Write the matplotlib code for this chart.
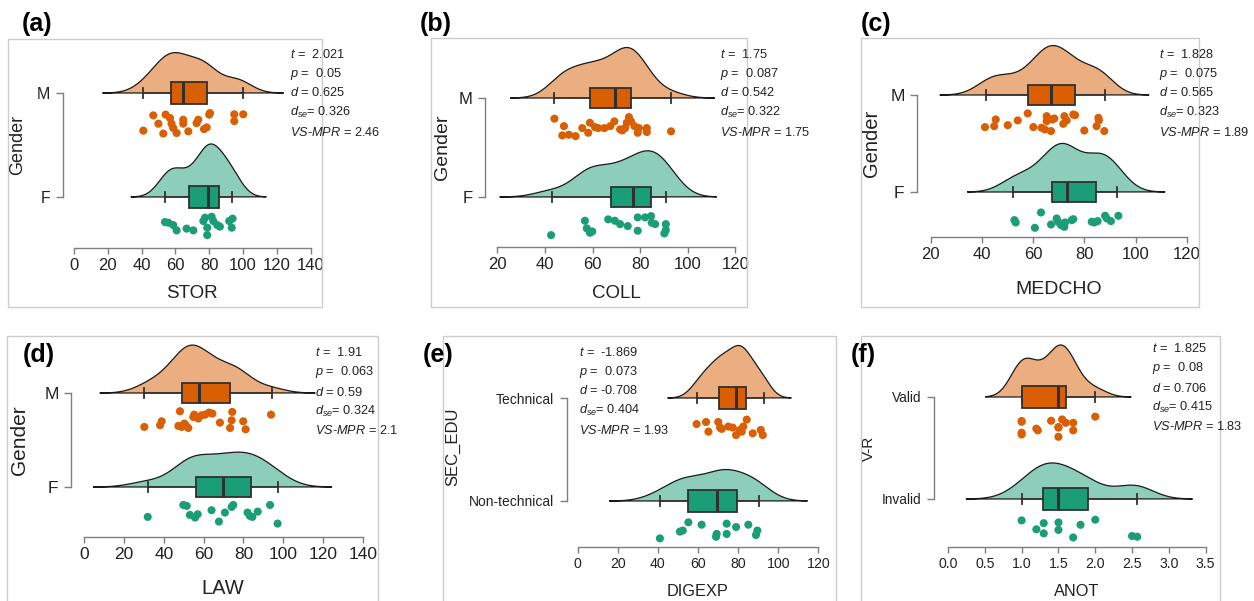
import numpy as np
import matplotlib
matplotlib.use("Agg")
import matplotlib.pyplot as plt
from matplotlib.patches import Rectangle

plt.rcParams['font.family'] = ['Liberation Sans', 'DejaVu Sans']
plt.rcParams['mathtext.fontset'] = 'custom'
plt.rcParams['mathtext.rm'] = 'Liberation Sans'
plt.rcParams['mathtext.it'] = 'Liberation Sans:italic'

# ---------------- data ----------------
# (a) STOR by Gender
stor_m = [41.0, 52.8, 60.7, 67.6, 76.9, 78.5, 49.9, 58.7, 57.7, 64.6, 64.6, 72.5, 73.5,
          46.9, 54.2, 56.8, 80.0, 80.4, 94.8, 94.8, 100.1]
stor_m_jit = [-0.72, -1.0, -0.95, -0.79, -0.57, -0.41, -0.05, -0.47, -0.05, -0.05, 0.33, 0.0, 0.33,
              0.75, 0.82, 0.49, 0.82, 0.97, 0.2, 0.85, 0.85]
stor_f = [53.8, 55.8, 58.7, 60.7, 66.6, 70.6, 78.8, 78.8, 76.5, 77.5, 81.4, 82.4, 84.7, 86.3,
          91.8, 93.3, 93.8]
stor_f_jit = [0.49, 0.43, 0.2, -0.31, -0.14, -0.31, -0.76, -0.05, 0.59, 0.91, 1.0, 0.59, 0.2, 0.05,
              0.59, -0.05, 0.82]
stor_box_m = [40.6, 57.4, 64.3, 78.7, 99.7]
stor_box_f = [53.8, 68.0, 79.0, 85.7, 93.6]
stor_stats = ["2.021", "0.05", "0.625", "0.326", "2.46"]

# (b) COLL by Gender
coll_m = [44.0, 47.3, 48.0, 50.1, 52.9, 55.7, 58.2, 58.9, 61.0, 62.4, 65.0, 67.5, 69.2, 71.6,
          72.5, 73.7, 74.4, 75.3, 76.2, 77.6, 79.0, 79.5, 82.8, 82.8, 93.0]
coll_m_jit = [0.81, -0.88, 0.06, -0.81, -0.95, -0.14, -0.61, 0.4, -0.04, -0.14, -0.14, 0.06, 0.54,
              -0.27, -0.37, -0.14, 0.4, 0.97, 0.54, 0.06, -0.61, -0.14, -0.54, -0.14, -0.47]
coll_f = [42.6, 56.8, 57.6, 58.9, 59.9, 66.6, 69.4, 71.6, 74.8, 79.0, 79.0, 82.1, 84.6, 84.9,
          86.3, 90.2, 90.8, 90.8]
coll_f_jit = [-0.95, 0.5, -0.27, -0.71, -0.58, 0.64, 0.5, 0.16, -0.04, -0.51, 0.84, 0.84, 0.97, 0.3,
              0.16, -0.78, -0.44, 0.16]
coll_box_m = [44.0, 58.9, 69.5, 76.0, 92.9]
coll_box_f = [43.1, 67.6, 76.9, 84.6, 90.8]
coll_stats = ["1.75", "0.087", "0.542", "0.322", "1.75"]

# (c) MEDCHO by Gender
medcho_m = [41.2, 44.8, 45.4, 50.1, 54.0, 57.9, 60.1, 63.3, 64.6, 65.3, 65.3, 67.0, 67.5, 68.3,
            71.8, 72.2, 73.1, 75.7, 76.4, 80.0, 84.8, 85.5, 85.7, 87.8]
medcho_m_jit = [-0.41, -0.31, 0.38, -0.21, 0.28, 1.0, -0.41, -0.48, -0.65, 0.21, 0.72, -0.82, 0.38,
                0.48, -0.07, 0.72, 0.28, 0.89, 0.82, -0.76, -0.31, 0.55, 0.28, -0.82]
medcho_f = [52.7, 53.2, 60.7, 63.1, 67.0, 69.2, 69.8, 70.9, 72.2, 72.5, 75.1, 75.7, 82.9, 83.9,
            85.2, 88.1, 88.8, 90.4, 93.3]
medcho_f_jit = [0.0, -0.24, -0.79, 0.79, -0.45, 0.17, -0.17, -0.52, -0.69, -0.24, 0.0, 0.1, -0.17,
                -0.24, -0.1, 0.45, 0.17, -0.1, 0.45]
medcho_box_m = [41.5, 58.1, 66.9, 76.2, 88.0]
medcho_box_f = [52.3, 67.5, 73.1, 84.7, 92.9]
medcho_stats = ["1.828", "0.075", "0.565", "0.323", "1.89"]

# (d) LAW by Gender
law_m = [30.2, 38.1, 38.9, 47.3, 48.1, 49.0, 50.3, 51.0, 52.3, 54.8, 55.3, 57.3, 59.0, 60.7,
         62.7, 64.4, 68.2, 73.3, 74.1, 74.4, 79.9, 81.1, 93.9]
law_m_jit = [-0.71, -0.53, -0.11, -0.6, 0.96, -0.71, -0.35, -0.53, -0.82, 0.35, 0.6, 0.18, 0.53, 0.6,
             0.82, 0.71, -0.25, -0.82, 0.0, 0.89, -0.11, -0.96, 0.6]
law_f = [31.9, 49.8, 51.5, 53.1, 55.7, 57.0, 64.0, 67.7, 70.7, 74.1, 74.9, 82.1, 83.3, 84.5,
         87.2, 93.4, 97.2]
law_f_jit = [-0.28, 0.99, 0.89, -0.07, -0.35, 0.0, 0.43, -0.78, 0.18, 0.78, 0.99, 0.18, -0.18, -0.28,
             0.28, 0.99, -0.99]
law_box_m = [30.0, 49.0, 57.8, 73.3, 94.2]
law_box_f = [31.9, 56.2, 69.6, 83.8, 97.2]
law_stats = ["1.91", "0.063", "0.59", "0.324", "2.1"]

# (e) DIGEXP by SEC_EDU
digexp_tech = [59.3, 64.0, 65.2, 70.1, 71.0, 71.8, 75.1, 77.3, 79.0, 80.9, 81.8, 82.6, 84.3, 87.3,
               91.3, 92.3]
digexp_tech_jit = [0.37, 0.57, -0.37, 0.57, 0.03, -0.1, 0.13, 0.03, -0.7, -0.2, -0.37, 0.13, 0.8,
                   -0.53, -0.2, -0.7]
digexp_nontech = [41.0, 51.0, 52.4, 55.2, 61.8, 69.0, 69.3, 74.3, 74.3, 79.0, 85.1, 88.9, 89.6]
digexp_nontech_jit = [-0.73, -0.07, 0.03, 0.83, 0.6, -0.57, -0.3, -0.3, 0.7, 0.37, 0.6, -0.4, 0.03]
digexp_box_tech = [59.3, 70.5, 79.0, 83.8, 92.9]
digexp_box_nontech = [41.0, 55.2, 69.3, 79.3, 90.4]
digexp_stats = ["-1.869", "0.073", "-0.708", "0.404", "1.93"]

# (f) ANOT by V-R
anot_valid = [1.0, 1.0, 1.0, 1.0, 1.2, 1.22, 1.4, 1.5, 1.5, 1.5, 1.55, 1.6, 1.7, 1.7, 2.0]
anot_valid_jit = [-0.77, 0.47, -0.6, 0.55, -0.2, -0.37, 0.57, -1.0, -0.1, -0.05, 0.7, 0.37, -0.37,
                  0.37, 0.97]
anot_invalid = [1.0, 1.2, 1.3, 1.3, 1.5, 1.5, 1.7, 1.8, 2.0, 2.5, 2.57]
anot_invalid_jit = [0.8, -0.07, -0.47, 0.53, -0.13, 0.6, -0.87, 0.37, 0.87, -0.73, -0.8]
anot_box_valid = [1.0, 1.0, 1.49, 1.6, 2.0]
anot_box_invalid = [1.0, 1.29, 1.49, 1.90, 2.57]
anot_stats = ["1.825", "0.08", "0.706", "0.415", "1.83"]

# ---------------- style ----------------
W, H = 1254, 601
ORANGE = '#D95F02'
GREEN = '#1B9E77'
AXIS_GREY = '#7f7f7f'
TEXT = '#222222'
FRAME = '#cccccc'

fig = plt.figure(figsize=(W / 100, H / 100), dpi=100)


def nrd0(x):
    x = np.asarray(x, float)
    sd = x.std(ddof=1)
    q75, q25 = np.percentile(x, [75, 25])
    lo = min(sd, (q75 - q25) / 1.34)
    if lo <= 0:
        lo = sd
    return 0.9 * lo * len(x) ** -0.2


def kde(x, n=512):
    x = np.asarray(x, float)
    bw = nrd0(x)
    grid = np.linspace(x.min() - 3 * bw, x.max() + 3 * bw, n)
    d = np.exp(-0.5 * ((grid[:, None] - x[None, :]) / bw) ** 2).sum(1) / (len(x) * bw * np.sqrt(2 * np.pi))
    return grid, d


def stat_lines(vals):
    return [r"$t$ =  " + vals[0],
            r"$p$ =  " + vals[1],
            r"$d$ = " + vals[2],
            r"$d_{se}$= " + vals[3],
            r"$VS$-$MPR$ = " + vals[4]]


panels = [
    dict(label='(a)', label_xy=(22, 24), frame=(8, 39, 322, 307),
         ticks=np.arange(0, 141, 20), fmt='{:.0f}', px0=74, px1=310.7, ytop=93, ybot=197, axis_y=248,
         cats=('F', 'M'), top=(stor_m, stor_m_jit, stor_box_m), bot=(stor_f, stor_f_jit, stor_box_f),
         xlabel='STOR', xlabel_xy=(192, 293), ylabel='Gender', ylabel_xy=(18, 145), bracket_x=63,
         stats=stor_stats, stats_xy=(290, 54), fs=(12, 11.5, 13.5, 13)),
    dict(label='(b)', label_xy=(420, 24), frame=(431, 38, 747, 307),
         ticks=np.arange(20, 121, 20), fmt='{:.0f}', px0=497.3, px1=735.3, ytop=98, ybot=197, axis_y=247,
         cats=('F', 'M'), top=(coll_m, coll_m_jit, coll_box_m), bot=(coll_f, coll_f_jit, coll_box_f),
         xlabel='COLL', xlabel_xy=(616, 294), ylabel='Gender', ylabel_xy=(442, 147), bracket_x=485,
         stats=coll_stats, stats_xy=(720, 54), fs=(12, 12, 13.5, 14)),
    dict(label='(c)', label_xy=(861, 24), frame=(861, 38, 1199, 307),
         ticks=np.arange(20, 121, 20), fmt='{:.0f}', px0=930.7, px1=1186.7, ytop=95, ybot=192, axis_y=237,
         cats=('F', 'M'), top=(medcho_m, medcho_m_jit, medcho_box_m), bot=(medcho_f, medcho_f_jit, medcho_box_f),
         xlabel='MEDCHO', xlabel_xy=(1059, 290), ylabel='Gender', ylabel_xy=(872, 143), bracket_x=917,
         stats=medcho_stats, stats_xy=(1159, 54), fs=(12, 12.5, 14, 14.5)),
    dict(label='(d)', label_xy=(23, 355), frame=(7, 336, 378, 615),
         ticks=np.arange(0, 141, 20), fmt='{:.0f}', px0=84.3, px1=362.7, ytop=393, ybot=487, axis_y=537,
         cats=('F', 'M'), top=(law_m, law_m_jit, law_box_m), bot=(law_f, law_f_jit, law_box_f),
         xlabel='LAW', xlabel_xy=(223, 588), ylabel='Gender', ylabel_xy=(20, 440), bracket_x=71,
         stats=law_stats, stats_xy=(315, 353), fs=(12.5, 12.5, 14.5, 15)),
    dict(label='(e)', label_xy=(423, 355), frame=(443, 336, 836, 615),
         ticks=np.arange(0, 121, 20), fmt='{:.0f}', px0=577.7, px1=818.3, ytop=398, ybot=501, axis_y=547,
         cats=('Non-technical', 'Technical'), top=(digexp_tech, digexp_tech_jit, digexp_box_tech),
         bot=(digexp_nontech, digexp_nontech_jit, digexp_box_nontech),
         xlabel='DIGEXP', xlabel_xy=(698, 592), ylabel='SEC_EDU', ylabel_xy=(453, 447), bracket_x=567,
         stats=digexp_stats, stats_xy=(579, 352), fs=(10.2, 10, 11.8, 12)),
    dict(label='(f)', label_xy=(851, 355), frame=(861, 336, 1220, 615),
         ticks=np.arange(0, 3.51, 0.5), fmt='{:.1f}', px0=948, px1=1205.7, ytop=397, ybot=499, axis_y=547,
         cats=('Invalid', 'Valid'), top=(anot_valid, anot_valid_jit, anot_box_valid),
         bot=(anot_invalid, anot_invalid_jit, anot_box_invalid),
         xlabel='ANOT', xlabel_xy=(1077, 592), ylabel='V-R', ylabel_xy=(869, 448), bracket_x=934,
         stats=anot_stats, stats_xy=(1152, 349), fs=(10.2, 9.8, 11.8, 11)),
]


def draw_panel(p):
    fx0, fy0, fx1, fy1 = p['frame']
    t0, t1 = p['ticks'][0], p['ticks'][-1]
    b = (p['px1'] - p['px0']) / (t1 - t0)
    unit = p['ybot'] - p['ytop']

    def xd(px):
        return t0 + (px - p['px0']) / b

    def yd(py):
        return 2 - (py - p['ytop']) / unit

    # frame
    fig.add_artist(Rectangle((fx0 / W, 1 - fy1 / H), (fx1 - fx0) / W, (fy1 - fy0) / H,
                             transform=fig.transFigure, fill=False, edgecolor=FRAME, lw=1.0))

    ax = fig.add_axes([fx0 / W, 1 - fy1 / H, (fx1 - fx0) / W, (fy1 - fy0) / H])
    ax.patch.set_visible(False)
    ax.set_xlim(xd(fx0), xd(fx1))
    ax.set_ylim(yd(fy1), yd(fy0))
    for s in ('top', 'right'):
        ax.spines[s].set_visible(False)
    ax.spines['bottom'].set_position(('data', yd(p['axis_y'])))
    ax.spines['bottom'].set_bounds(t0, t1)
    ax.spines['left'].set_position(('data', xd(p['bracket_x'])))
    ax.spines['left'].set_bounds(1, 2)
    for s in ('bottom', 'left'):
        ax.spines[s].set_color(AXIS_GREY)
        ax.spines[s].set_linewidth(1.0)

    tick_fs, cat_fs, title_fs, ylab_fs = p['fs']
    ax.set_xticks(p['ticks'])
    ax.set_xticklabels([p['fmt'].format(v) for v in p['ticks']])
    ax.tick_params(axis='x', length=4, width=1, color=AXIS_GREY, pad=3,
                   labelsize=tick_fs, labelcolor=TEXT)
    ax.set_yticks([1, 2])
    ax.set_yticklabels(list(p['cats']))
    ax.tick_params(axis='y', length=5, width=1, color=AXIS_GREY, pad=4,
                   labelsize=cat_fs, labelcolor=TEXT)

    groups = [(p['top'], 2.0, ORANGE), (p['bot'], 1.0, GREEN)]
    dens = [kde(g[0][0]) for g in groups]
    scale = 0.51 / max(d.max() for _, d in dens)
    for ((vals, jit, box), base, col), (gx, gd) in zip(groups, dens):
        ax.fill(gx, base + gd * scale, facecolor=col, alpha=0.5, edgecolor='none', zorder=1)
        ax.plot(np.r_[gx, gx[0]], np.r_[base + gd * scale, base], color='#1a1a1a', lw=0.9, zorder=1.5)
        st = dict(whislo=box[0], q1=box[1], med=box[2], q3=box[3], whishi=box[4], fliers=[])
        kw = dict(positions=[base], widths=0.21, patch_artist=True, manage_ticks=False,
                  showfliers=False, capwidths=0.1,
                  boxprops=dict(facecolor=col, edgecolor='#303030', lw=1.3),
                  medianprops=dict(color='#303030', lw=2.2),
                  whiskerprops=dict(color='#303030', lw=1.1),
                  capprops=dict(color='#303030', lw=1.3))
        try:
            bp = ax.bxp([st], orientation='horizontal', **kw)
        except TypeError:
            bp = ax.bxp([st], vert=False, **kw)
        for k in bp:
            for a in bp[k]:
                a.set_zorder(3)
        ys = base - 0.29 + 0.1 * np.asarray(jit)
        ax.scatter(vals, ys, s=34, color=col, edgecolors='none', zorder=2, clip_on=False)

    # titles / labels
    fig.text(p['xlabel_xy'][0] / W, 1 - p['xlabel_xy'][1] / H, p['xlabel'], ha='center', va='center',
             fontsize=title_fs, color=TEXT)
    fig.text(p['ylabel_xy'][0] / W, 1 - p['ylabel_xy'][1] / H, p['ylabel'], ha='center', va='center',
             fontsize=ylab_fs, color=TEXT, rotation=90)
    fig.text(p['label_xy'][0] / W, 1 - p['label_xy'][1] / H, p['label'], ha='left', va='center',
             fontsize=18, fontweight='bold', color='black')
    sx, sy = p['stats_xy']
    for i, s in enumerate(stat_lines(p['stats'])):
        fig.text(sx / W, 1 - (sy + i * 19.5) / H, s, ha='left', va='center', fontsize=9.2, color=TEXT)


for p in panels:
    draw_panel(p)

fig.savefig('out.png', dpi=100)
